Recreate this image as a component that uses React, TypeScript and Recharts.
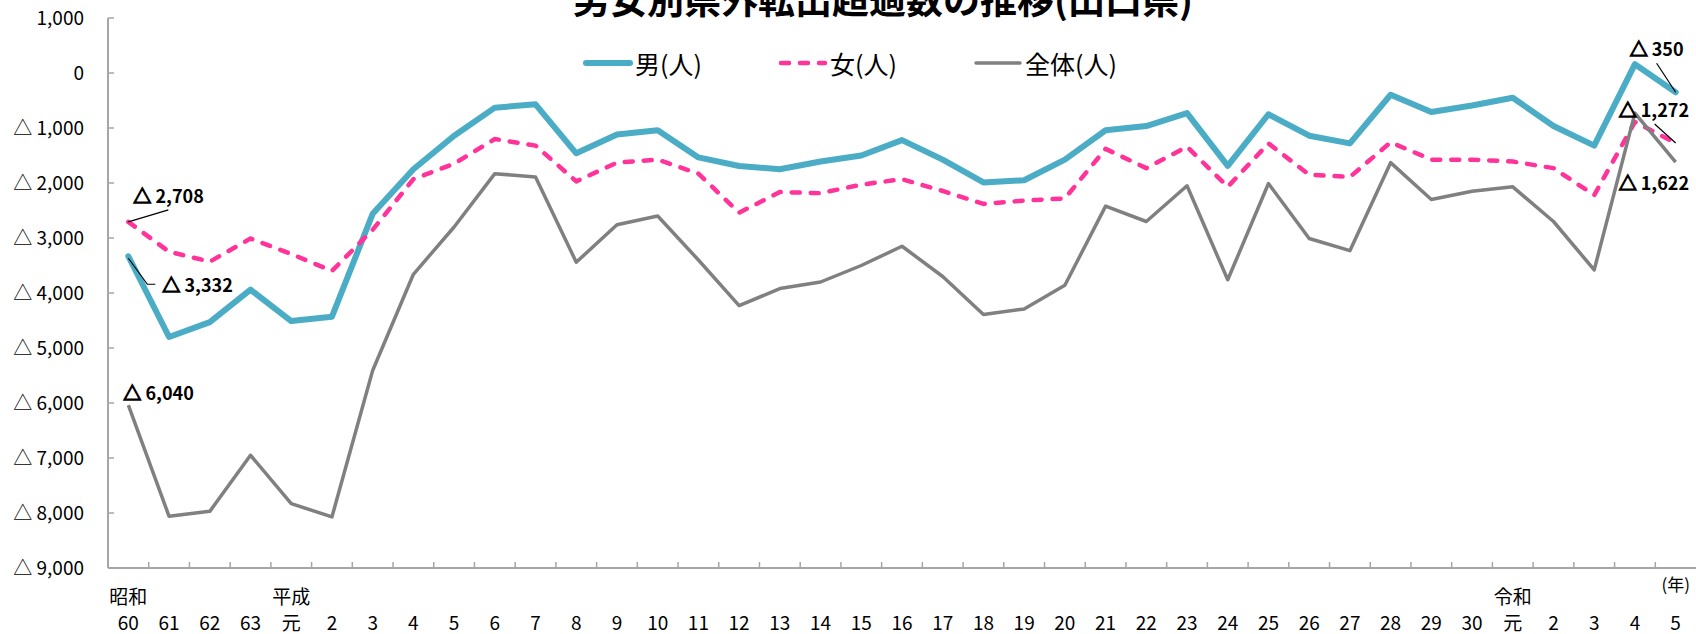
import React from 'react';
import { LineChart, Line, XAxis, YAxis, Legend, LabelList } from 'recharts';

const years = ['60','61','62','63','元','2','3','4','5','6','7','8','9','10','11','12','13','14','15','16','17','18','19','20','21','22','23','24','25','26','27','28','29','30','元','2','3','4','5'];
const eras = ['昭和','','','','平成','','','','','','','','','','','','','','','','','','','','','','','','','','','','','','令和','','','',''];
const unitLabel = '(年)';
const title = '男女別県外転出超過数の推移(山口県)';

const male = [-3332,-4800,-4530,-3940,-4510,-4430,-2560,-1750,-1140,-630,-570,-1460,-1120,-1040,-1535,-1690,-1750,-1610,-1500,-1220,-1575,-1990,-1950,-1575,-1040,-965,-730,-1690,-750,-1140,-1280,-395,-710,-590,-450,-965,-1320,160,-350];
const female = [-2708,-3250,-3430,-3010,-3290,-3600,-2850,-1930,-1650,-1200,-1320,-1970,-1630,-1575,-1830,-2540,-2165,-2185,-2030,-1930,-2145,-2380,-2320,-2280,-1380,-1730,-1340,-2070,-1280,-1850,-1890,-1260,-1575,-1575,-1610,-1730,-2220,-890,-1272];
const total = [-6040,-8060,-7970,-6950,-7830,-8070,-5410,-3660,-2800,-1830,-1890,-3440,-2760,-2600,-3400,-4230,-3920,-3800,-3500,-3150,-3700,-4390,-4290,-3860,-2420,-2700,-2050,-3760,-2010,-3010,-3230,-1630,-2300,-2150,-2070,-2700,-3580,-730,-1622];

const yTicks = [1000, 0, -1000, -2000, -3000, -4000, -5000, -6000, -7000, -8000, -9000];
const seriesOrder = ['male', 'female', 'total'];
const seriesNames: Record<string, string> = { male: '男(人)', female: '女(人)', total: '全体(人)' };

const data = years.map((y, i) => ({ idx: i, male: male[i], female: female[i], total: total[i] }));

const FONT = "'Noto Sans CJK JP', 'Noto Sans', sans-serif";
const AXIS = '#A6A6A6';
const styles: Record<string, { color: string; width: number; dash?: string; itemWidth: number }> = {
  male: { color: '#4BACC6', width: 6, itemWidth: 195 },
  female: { color: '#FF3399', width: 4.5, dash: '8 11', itemWidth: 195 },
  total: { color: '#808080', width: 3.5, itemWidth: 150 },
};

const fmtNum = (v: number) => Math.abs(v).toLocaleString('en-US');

type Ann = { tx: number; ty: number; lead?: number[][] };
const annotations: Record<string, { start: Ann; end: Ann }> = {
  male: { start: { tx: 34, ty: 29, lead: [[0, 2], [19, 28], [27, 28]] }, end: { tx: -46, ty: -43, lead: [[-19, -29], [0, 0]] } },
  female: { start: { tx: 5, ty: -25, lead: [[0, 0], [40, -12]] }, end: { tx: -57, ty: -32, lead: [[-21, -19], [0, 0]] } },
  total: { start: { tx: -5, ty: -12 }, end: { tx: -57, ty: 21 } },
};

const makeLabel = (key: string) => (props: any) => {
  const { x, y, index, value } = props;
  const last = years.length - 1;
  const cfg = index === 0 ? annotations[key].start : index === last ? annotations[key].end : null;
  if (!cfg || x == null || y == null) return null;
  const px = Number(x), py = Number(y);
  const v = Number(value);
  return (
    <g>
      {cfg.lead && (
        <polyline
          points={cfg.lead.map(([dx, dy]) => `${px + dx},${py + dy}`).join(' ')}
          fill="none"
          stroke="#000"
          strokeWidth={1.2}
        />
      )}
      <text x={px + cfg.tx} y={py + cfg.ty} dy="0.36em" textAnchor="start" fontSize={18} fontWeight={700} fill="#000" fontFamily={FONT}>
        {v < 0 && <tspan stroke="#000" strokeWidth={1.3}>△</tspan>}
        {v < 0 ? ' ' : ''}
        {fmtNum(v)}
      </text>
    </g>
  );
};

const YTick = (props: any) => {
  const { x, y, payload } = props;
  const v = Number(payload.value);
  return (
    <g>
      <line x1={x} x2={x + 6} y1={y} y2={y} stroke={AXIS} strokeWidth={1.5} />
      <text x={x - 24} y={y} dy="0.36em" textAnchor="end" fontSize={19} fill="#000" fontFamily={FONT}>
        {v < 0 ? '△ ' + fmtNum(v) : fmtNum(v)}
      </text>
    </g>
  );
};

const XTick = (props: any) => {
  const { x, y, payload, width, visibleTicksCount } = props;
  const i = Number(payload.value);
  const band = Number(width) > 0 && visibleTicksCount ? Number(width) / visibleTicksCount : 1588 / 39;
  const isLast = i === years.length - 1;
  return (
    <g>
      {i > 0 && <line x1={x - band / 2} x2={x - band / 2} y1={y} y2={y - 6} stroke={AXIS} strokeWidth={1.5} />}
      {eras[i] && (
        <text x={x} y={y + 36} textAnchor="middle" fontSize={19} fill="#000" fontFamily={FONT}>{eras[i]}</text>
      )}
      {isLast && (
        <text x={x} y={y + 23} textAnchor="middle" fontSize={17} fill="#000" fontFamily={FONT}>{unitLabel}</text>
      )}
      <text x={x} y={y + 62} textAnchor="middle" fontSize={19} fill="#000" fontFamily={FONT}>{years[i]}</text>
    </g>
  );
};

const renderLegend = (props: any) => {
  const payload = [...(props.payload || [])].sort(
    (a: any, b: any) => seriesOrder.indexOf(a.dataKey) - seriesOrder.indexOf(b.dataKey)
  );
  return (
    <div style={{ display: 'flex', justifyContent: 'center', fontFamily: FONT, fontSize: 25, lineHeight: '34px', color: '#000' }}>
      {payload.map((p: any) => {
        const s = styles[p.dataKey];
        return (
          <div key={p.dataKey} style={{ display: 'flex', alignItems: 'center', width: s.itemWidth }}>
            <svg width={52} height={14} style={{ display: 'block' }}>
              <line x1={4} x2={48} y1={7} y2={7} stroke={s.color} strokeWidth={s.width} strokeDasharray={s.dash} strokeLinecap="round" />
            </svg>
            <span style={{ marginLeft: 1, whiteSpace: 'nowrap' }}>{seriesNames[p.dataKey]}</span>
          </div>
        );
      })}
    </div>
  );
};

export default function App() {
  return (
    <div style={{ position: 'absolute', left: 0, top: 0, width: 1696, height: 634, fontFamily: FONT, background: '#fff', overflow: 'hidden' }}>
      <LineChart width={1696} height={634} data={data} margin={{ top: 18, right: 0, left: 0, bottom: 0 }}>
        <XAxis
          dataKey="idx"
          type="category"
          scale="band"
          height={66}
          interval={0}
          tickSize={0}
          tickMargin={0}
          tickLine={false}
          axisLine={{ stroke: AXIS, strokeWidth: 2 }}
          tick={XTick}
        />
        <YAxis
          type="number"
          domain={[-9000, 1000]}
          ticks={yTicks}
          allowDataOverflow
          width={108}
          interval={0}
          tickSize={0}
          tickMargin={0}
          tickLine={false}
          axisLine={{ stroke: AXIS, strokeWidth: 2 }}
          tick={YTick}
        />
        <Legend verticalAlign="middle" align="center" layout="horizontal" wrapperStyle={{ top: 46, left: 4, width: 1696 }} content={renderLegend} />
        <Line dataKey="male" name={seriesNames.male} stroke={styles.male.color} strokeWidth={styles.male.width} dot={false} activeDot={false} isAnimationActive={false} strokeLinejoin="round" strokeLinecap="round">
          <LabelList dataKey="male" content={makeLabel('male')} />
        </Line>
        <Line dataKey="female" name={seriesNames.female} stroke={styles.female.color} strokeWidth={styles.female.width} strokeDasharray={styles.female.dash} dot={false} activeDot={false} isAnimationActive={false} strokeLinejoin="round" strokeLinecap="round">
          <LabelList dataKey="female" content={makeLabel('female')} />
        </Line>
        <Line dataKey="total" name={seriesNames.total} stroke={styles.total.color} strokeWidth={styles.total.width} dot={false} activeDot={false} isAnimationActive={false} strokeLinejoin="round">
          <LabelList dataKey="total" content={makeLabel('total')} />
        </Line>
      </LineChart>
      <div style={{ position: 'absolute', left: 383, top: -20, width: 1000, textAlign: 'center', fontSize: 37, lineHeight: '37px', fontWeight: 700, fontFamily: FONT, color: '#000', whiteSpace: 'nowrap' }}>
        {title}
      </div>
    </div>
  );
}
